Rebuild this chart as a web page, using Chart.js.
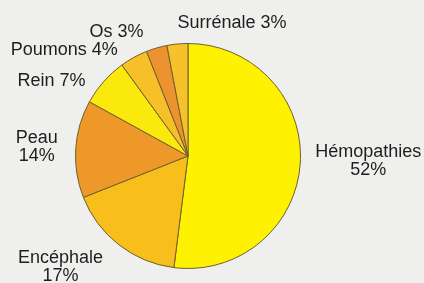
<!DOCTYPE html>
<html>
<head>
<meta charset="utf-8">
<script src="https://cdn.jsdelivr.net/npm/chart.js@4"></script>
<style>
  html, body { margin: 0; padding: 0; background: #efefed; }
  canvas { display: block; }
</style>
</head>
<body>
<canvas id="myChart" width="424" height="283"></canvas>
<script>
// data (percent)
const categories = ["Hémopathies", "Encéphale", "Peau", "Rein", "Poumons", "Os", "Surrénale"];
const values = [52, 17, 14, 7, 4, 3, 3];
// labels written on two lines (name above, percent below)
const twoLine = ["Hémopathies", "Encéphale", "Peau"];

const sliceColors = ["#fff200", "#f8bf1c", "#ee9829", "#fbe90e", "#f8c028", "#ec9330", "#f6c12a"];

// label placement relative to the rim point at the middle of each slice
// [dx, dy, align] ; the picture's labels are hand-placed, so nudged one by one
const labelLayout = {
  "Hémopathies": [15, -2, "left"],
  "Encéphale": [-16, 22, "right"],
  "Peau": [-18, -2, "right"],
  "Rein": [-18, -1, "right"],
  "Poumons": [-16, -7, "right"],
  "Os": [-13, -16, "right"],
  "Surrénale": [0, -21, "left"],
};

const outsideLabels = {
  id: "outsideLabels",
  afterDatasetsDraw(chart) {
    const ctx = chart.ctx;
    const arcs = chart.getDatasetMeta(0).data;
    ctx.save();
    ctx.font = "18px 'Liberation Sans', Arial, sans-serif";
    ctx.fillStyle = "#1e1e1e";
    ctx.textBaseline = "middle";
    ctx.textAlign = "center";
    arcs.forEach(function (arc, i) {
      const mid = (arc.startAngle + arc.endAngle) / 2;
      const px = arc.x + Math.cos(mid) * arc.outerRadius;
      const py = arc.y + Math.sin(mid) * arc.outerRadius;
      const lay = labelLayout[categories[i]];
      const ax = px + lay[0];
      const ay = py + lay[1];
      const pct = values[i] + "%";
      const lines = twoLine.includes(categories[i])
        ? [categories[i], pct]
        : [categories[i] + " " + pct];
      const blockW = Math.max.apply(null, lines.map(function (l) { return ctx.measureText(l).width; }));
      const blockX = lay[2] === "right" ? ax - blockW : ax;
      const lh = 18;
      const y0 = ay - (lines.length - 1) * lh / 2;
      lines.forEach(function (l, k) {
        ctx.fillText(l, blockX + blockW / 2, y0 + k * lh);
      });
    });
    ctx.restore();
  },
};

const ctx = document.getElementById("myChart");

new Chart(ctx, {
  type: "pie",
  data: {
    labels: categories,
    datasets: [
      {
        data: values,
        backgroundColor: sliceColors,
        borderColor: "#6e5f2c",
        borderWidth: 1,
      },
    ],
  },
  options: {
    responsive: false,
    animation: false,
    layout: {
      padding: { left: 75, right: 123, top: 43, bottom: 14 },
    },
    plugins: {
      legend: { display: false },
      tooltip: { enabled: false },
    },
  },
  plugins: [outsideLabels],
});
</script>
</body>
</html>
